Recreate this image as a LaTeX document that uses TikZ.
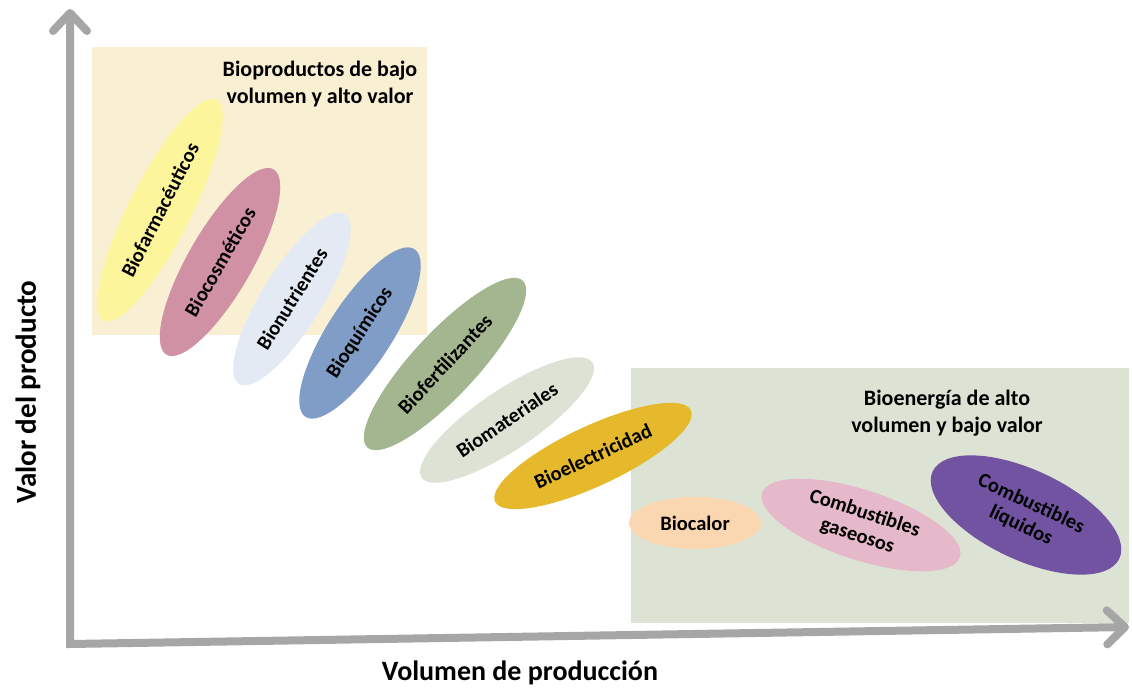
\documentclass[tikz,border=0pt]{standalone}
\usepackage{fontspec}
\setmainfont{Carlito}
\usetikzlibrary{shapes.geometric,arrows.meta}

\definecolor{axisgray}{HTML}{A6A6A6}
\definecolor{boxyellow}{HTML}{F9F0D4}
\definecolor{boxgreen}{HTML}{DCE3D5}
\definecolor{cfarm}{HTML}{FCF59C}
\definecolor{ccosm}{HTML}{D191A5}
\definecolor{cnutr}{HTML}{E3EAF4}
\definecolor{cquim}{HTML}{7F9DC7}
\definecolor{cfert}{HTML}{A3B68F}
\definecolor{cmat}{HTML}{DCE3D4}
\definecolor{celec}{HTML}{E5B92B}
\definecolor{ccal}{HTML}{FAD7B0}
\definecolor{cgas}{HTML}{E5B9C9}
\definecolor{cliq}{HTML}{7253A1}

\begin{document}
\begin{tikzpicture}
  [x=1pt,y=-1pt,
   every node/.style={font=\bfseries\fontsize{20.5}{24}\selectfont,align=center},
   bio/.style={ellipse,inner sep=0pt},
   axis/.style={draw=axisgray,line width=8pt,line join=miter,
                {Straight Barb[round,length=18pt,width=34pt]}-{Straight Barb[round,length=18pt,width=34pt]}},
   title/.style={font=\bfseries\fontsize{22}{27}\selectfont}]
  \useasboundingbox (0,0) rectangle (1132,688);
  \fill[boxyellow] (92,47) rectangle (427,335);
  \fill[boxgreen] (631,368) rectangle (1129,623);
  \coordinate (o) at (70,644);
  \coordinate (ytop) at (70,9);
  \coordinate (xend) at (1129,627);
  \draw[axis] (ytop) -- (o) -- (xend);
  \node (lowvol) [title] at (320,84) {Bioproductos de bajo\\volumen y alto valor};
  \node (highvol) [title] at (947,413) {Bioenergía de alto\\volumen y bajo valor};
  \node (bfarm) [bio,fill=cfarm,minimum width=248pt,minimum height=62pt,rotate=63] at (160,210) {Biofarmacéuticos};
  \node (bcosm) [bio,fill=ccosm,minimum width=214pt,minimum height=64pt,rotate=60] at (220,262) {Biocosméticos};
  \node (bnutr) [bio,fill=cnutr,minimum width=200pt,minimum height=60pt,rotate=58] at (292,299) {Bionutrientes};
  \node (bquim) [bio,fill=cquim,minimum width=200pt,minimum height=64pt,rotate=57] at (360,333) {Bioquímicos};
  \node (bfert) [bio,fill=cfert,minimum width=228pt,minimum height=64pt,rotate=47] at (445,364) {Biofertilizantes};
  \node (bmat) [bio,fill=cmat,minimum width=206pt,minimum height=60pt,rotate=34] at (507,420) {Biomateriales};
  \node (belec) [bio,fill=celec,minimum width=216pt,minimum height=60pt,rotate=25] at (593,456) {Bioelectricidad};
  \node (bcal) [bio,fill=ccal,minimum width=132pt,minimum height=52pt] at (695,523) {Biocalor};
  \node (bgas) [bio,fill=cgas,minimum width=208pt,minimum height=70pt,rotate=-18] at (861,525) {Combustibles\\gaseosos};
  \node (bliq) [bio,fill=cliq,minimum width=206pt,minimum height=90pt,rotate=-25] at (1026,515) {Combustibles\\líquidos};
  \node (ylab) [font=\bfseries\fontsize{29}{32}\selectfont,rotate=90] at (28,392) {Valor del producto};
  \node (xlab) [font=\bfseries\fontsize{28}{32}\selectfont] at (520,673) {Volumen de producción};
\end{tikzpicture}
\end{document}
